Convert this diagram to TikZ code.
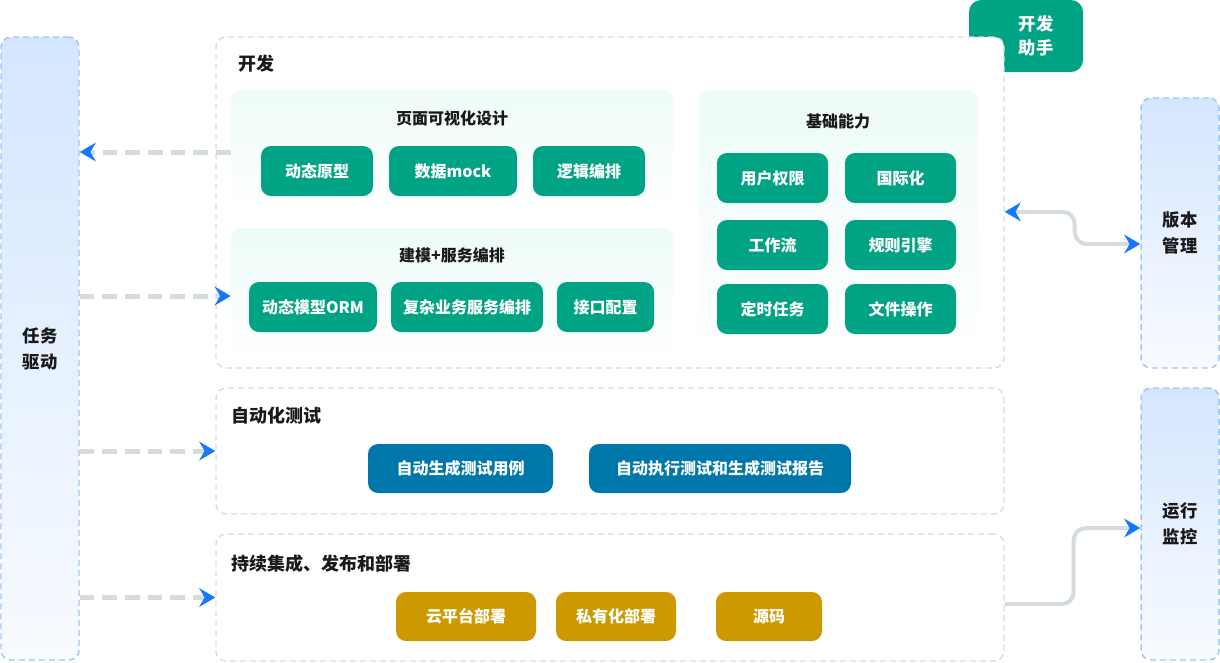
\documentclass[tikz,border=0pt]{standalone}
\usepackage{fontspec}
\setmainfont{Noto Sans CJK SC}
\usetikzlibrary{fit,arrows.meta}

\definecolor{dgreen}{HTML}{00A383}
\definecolor{tblue}{HTML}{0077AA}
\definecolor{cgold}{HTML}{CC9900}
\definecolor{framegrey}{HTML}{D8DDDD}
\definecolor{sideline}{HTML}{A3C5F5}
\definecolor{sidetop}{HTML}{D4E6FF}
\definecolor{sidebot}{HTML}{F8FBFF}
\definecolor{mint}{HTML}{EEFCF9}
\definecolor{tipblue}{HTML}{1677FF}
\definecolor{wiregrey}{HTML}{D5DCDC}
\definecolor{ink}{HTML}{1A1A1A}

\tikzset{
  >={Stealth[length=12pt,width=14pt,inset=4pt,color=tipblue]},
  stage/.style={draw=framegrey, line width=1.1pt, dash pattern=on 4.5pt off 3pt, rounded corners=7.5pt, fill=white, inner sep=0pt},
  side/.style={draw=sideline, line width=1.1pt, dash pattern=on 4.5pt off 3pt, rounded corners=7.5pt, top color=sidetop, bottom color=sidebot, inner sep=0pt, minimum width=58.5pt, text=ink, font=\bfseries\fontsize{13}{19.5}\selectfont, align=center},
  panel/.style={rounded corners=7.5pt, top color=mint, bottom color=white, inner sep=0pt},
  item/.style={rounded corners=7.5pt, inner sep=0pt, minimum height=37.5pt, text=white, font=\bfseries\fontsize{12}{14}\selectfont},
  gitem/.style={item, fill=dgreen},
  bitem/.style={item, fill=tblue, minimum height=36.75pt},
  yitem/.style={item, fill=cgold, minimum height=36.75pt},
  ptitle/.style={text=ink, font=\bfseries\fontsize{12}{14}\selectfont},
  stitle/.style={text=ink, font=\bfseries\fontsize{13.5}{16}\selectfont, anchor=west, inner sep=0pt},
  flow/.style={draw=wiregrey, line width=3.75pt, dash pattern=on 11pt off 6pt, ->},
  wire/.style={draw=wiregrey, line width=3pt, rounded corners=9pt}
}

\begin{document}
\begin{tikzpicture}[x=0.75pt,y=-0.75pt]
\useasboundingbox (0,0) rectangle (1220,662);

% helper tab, behind the dev frame
\node[fit={(969,0) (1083,72)}, fill=dgreen, rounded corners=9pt, inner sep=0pt,
  label={[text=white, font=\bfseries\fontsize{13}{18}\selectfont, align=center, xshift=7.5pt]center:开发\\助手}] (helper) {};

% side columns
\node[side, minimum height=467.25pt] (task) at (40,348.5) {任务\\驱动};
\node[side, minimum height=202.5pt] (ver) at (1180,233) {版本\\管理};
\node[side, minimum height=204pt] (mon) at (1180,524) {运行\\监控};

% stage frames
\node[stage, fit={(216,37) (1004,368)}] (dev) {};
\node[stage, fit={(216,388) (1004,514)}] (test) {};
\node[stage, fit={(216,534) (1004,661)}] (ci) {};
\node[stitle] (devtitle) at (238,64) {开发};
\node[stitle] (testtitle) at (231,416) {自动化测试};
\node[stitle] (cititle) at (231,564) {持续集成、发布和部署};

% dev panels
\node[panel, fit={(231,90) (673,214)}] (page) {};
\node[panel, fit={(231,228) (673,364)}] (model) {};
\node[panel, fit={(699,90) (978,362)}] (base) {};
\node[ptitle] (pagetitle) at (452,118) {页面可视化设计};
\node[ptitle] (modeltitle) at (452,255) {建模+服务编排};
\node[ptitle] (basetitle) at (838,121) {基础能力};

% page items
\node[gitem, minimum width=84pt] (proto) at (317,171) {动态原型};
\node[gitem, minimum width=96pt] (mock) at (453,171) {数据mock};
\node[gitem, minimum width=84pt] (logic) at (589,171) {逻辑编排};
% model items
\node[gitem, minimum width=96pt] (orm) at (313,307) {动态模型ORM};
\node[gitem, minimum width=114pt] (svc) at (467,307) {复杂业务服务编排};
\node[gitem, minimum width=72.75pt] (api) at (605.5,307) {接口配置};
% base items
\node[gitem, minimum width=83.25pt] (auth) at (772.5,178) {用户权限};
\node[gitem, minimum width=83.25pt] (i18n) at (900.5,178) {国际化};
\node[gitem, minimum width=83.25pt] (wf) at (772.5,245) {工作流};
\node[gitem, minimum width=83.25pt] (rule) at (900.5,245) {规则引擎};
\node[gitem, minimum width=83.25pt] (timer) at (772.5,309) {定时任务};
\node[gitem, minimum width=83.25pt] (file) at (900.5,309) {文件操作};

% test items
\node[bitem, minimum width=138.75pt] (gencase) at (460.5,468.5) {自动生成测试用例};
\node[bitem, minimum width=196.5pt] (runtest) at (720,468.5) {自动执行测试和生成测试报告};

% deploy items
\node[yitem, minimum width=105pt] (cloud) at (466,616.5) {云平台部署};
\node[yitem, minimum width=90pt] (priv) at (616,616.5) {私有化部署};
\node[yitem, minimum width=79.5pt] (src) at (769,616.5) {源码};

% task driven flows
\draw[flow] (page.west) -- (page.west -| task.east);
\draw[flow] (task.east |- model.west) -- (model.west);
\draw[flow] (task.east |- test.west) -- (test.west);
\draw[flow] (task.east |- ci.west) -- (ci.west);

% version and monitoring links
\draw[wire, <->] ([yshift=-7pt]dev.east) -- ++(70,0) |- ([yshift=-8.25pt]ver.west);
\draw[wire, ->] ([yshift=-4.9pt]ci.east) -- ++(69,0) |- ([yshift=-3pt]mon.west);

\end{tikzpicture}
\end{document}
